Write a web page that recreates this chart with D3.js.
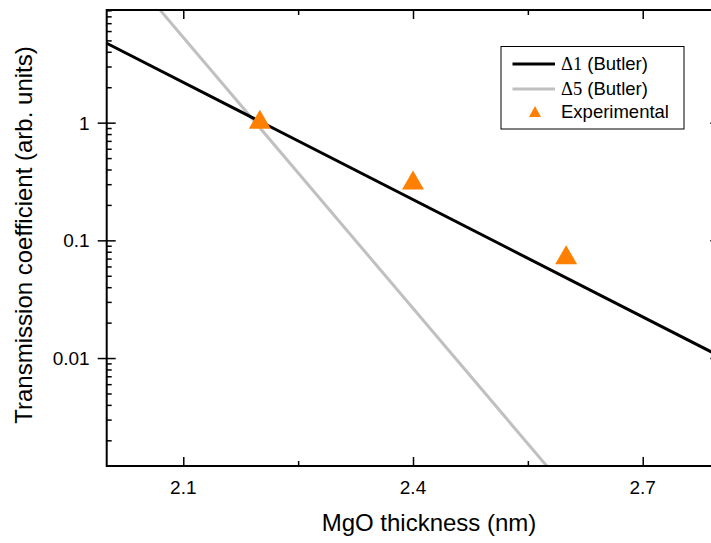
<!DOCTYPE html>
<html>
<head>
<meta charset="utf-8">
<script src="https://cdn.jsdelivr.net/npm/d3@7"></script>
<style>
  html, body { margin: 0; padding: 0; background: #fff; }
  svg { display: block; }
  text { font-family: Arial, "Liberation Sans", sans-serif; fill: #000; }
</style>
</head>
<body>
<svg id="chart" width="711" height="543"></svg>
<script>
// ---- data ----
const thickness = [2.2, 2.4, 2.6];                 // nm (experimental points)
const experimental = [1.07, 0.325, 0.0755];        // arb. units
const butlerThickness = [2.0, 2.8];                // nm (line endpoints)
const delta1 = [4.73, 0.0104];                     // Δ1 (Butler)
const delta5 = [31, 2.26e-5];                      // Δ5 (Butler)
const xMajorTicks = [2.1, 2.4, 2.7];
const xMinorTicks = [2.25, 2.55];
const yMajorTicks = [0.01, 0.1, 1];
const yMinorTicks = [0.002,0.003,0.004,0.005,0.006,0.007,0.008,0.009,
                     0.02,0.03,0.04,0.05,0.06,0.07,0.08,0.09,
                     0.2,0.3,0.4,0.5,0.6,0.7,0.8,0.9,
                     2,3,4,5,6,7,8,9];

// ---- layout ----
const L = 106.7, R = 719.3, T = 10, B = 466;
const svg = d3.select("#chart");
const x = d3.scaleLinear().domain([2.0, 2.8]).range([L, R]);
const y = d3.scaleLog().domain([0.00121, 9.06]).range([B, T]);

svg.append("defs").append("clipPath").attr("id", "clip")
  .append("rect").attr("x", L).attr("y", T).attr("width", R - L).attr("height", B - T);

const plot = svg.append("g").attr("clip-path", "url(#clip)");

// lines
const lineGen = d3.line().x(d => x(d[0])).y(d => y(d[1]));
plot.append("path")
  .datum(butlerThickness.map((t, i) => [t, delta5[i]]))
  .attr("d", lineGen).attr("fill", "none").attr("stroke", "#c0c0c0").attr("stroke-width", 3);
plot.append("path")
  .datum(butlerThickness.map((t, i) => [t, delta1[i]]))
  .attr("d", lineGen).attr("fill", "none").attr("stroke", "#000").attr("stroke-width", 3);

// triangles
function tri(cx, cy, w, h) {
  return `M${cx},${cy - h / 2}L${cx + w / 2},${cy + h / 2}L${cx - w / 2},${cy + h / 2}Z`;
}
plot.selectAll("path.pt").data(thickness.map((t, i) => [t, experimental[i]]))
  .enter().append("path").attr("class", "pt")
  .attr("d", d => tri(x(d[0]), y(d[1]), 22, 19))
  .attr("fill", "#ff8000");

// ---- axes ----
const axisStyle = g => {
  g.select(".domain").remove();
  g.selectAll("line").attr("stroke", "#000").attr("stroke-width", 1.5);
};

// bottom
svg.append("g").attr("transform", `translate(0,${B})`)
  .call(d3.axisTop(x).tickValues(xMajorTicks).tickSize(9).tickFormat(""))
  .call(axisStyle);
svg.append("g").attr("transform", `translate(0,${B})`)
  .call(d3.axisTop(x).tickValues(xMinorTicks).tickSize(5).tickFormat(""))
  .call(axisStyle);
svg.append("g").selectAll("text").data(xMajorTicks).enter().append("text")
  .attr("x", d => x(d)).attr("y", B + 28).attr("text-anchor", "middle")
  .attr("font-size", 19).text(d => d3.format(".1f")(d));

// top
svg.append("g").attr("transform", `translate(0,${T})`)
  .call(d3.axisBottom(x).tickValues(xMajorTicks).tickSize(9).tickFormat(""))
  .call(axisStyle);
svg.append("g").attr("transform", `translate(0,${T})`)
  .call(d3.axisBottom(x).tickValues(xMinorTicks).tickSize(5).tickFormat(""))
  .call(axisStyle);

// left
const leftMajor = svg.append("g").attr("transform", `translate(${L},0)`)
  .call(d3.axisLeft(y).tickValues(yMajorTicks).tickSize(9).tickFormat(""))
  .call(axisStyle);
leftMajor.selectAll("line").attr("x1", 9).attr("x2", -9);
svg.append("g").attr("transform", `translate(${L},0)`)
  .call(d3.axisRight(y).tickValues(yMinorTicks).tickSize(5).tickFormat(""))
  .call(axisStyle);
svg.append("g").selectAll("text").data(yMajorTicks).enter().append("text")
  .attr("x", L - 17).attr("y", d => y(d) + 7).attr("text-anchor", "end")
  .attr("font-size", 19).text(d => String(d));

// right
svg.append("g").attr("transform", `translate(${R},0)`)
  .call(d3.axisLeft(y).tickValues(yMajorTicks).tickSize(9).tickFormat(""))
  .call(axisStyle);
svg.append("g").attr("transform", `translate(${R},0)`)
  .call(d3.axisLeft(y).tickValues(yMinorTicks).tickSize(5).tickFormat(""))
  .call(axisStyle);

// frame
svg.append("rect").attr("x", L).attr("y", T).attr("width", R - L).attr("height", B - T)
  .attr("fill", "none").attr("stroke", "#000").attr("stroke-width", 2);

// titles
svg.append("text").attr("x", 429).attr("y", 531).attr("text-anchor", "middle")
  .attr("font-size", 24).text("MgO thickness (nm)");
svg.append("text").attr("transform", "translate(32,235) rotate(-90)")
  .attr("text-anchor", "middle").attr("font-size", 24)
  .text("Transmission coefficient (arb. units)");

// ---- legend ----
const lg = svg.append("g");
lg.append("rect").attr("x", 501).attr("y", 46.5).attr("width", 183).attr("height", 82.5)
  .attr("fill", "#fff").attr("stroke", "#000").attr("stroke-width", 1);
const legendItems = [
  { sym: "Δ1", rest: " (Butler)", color: "#000", type: "line", cy: 64 },
  { sym: "Δ5", rest: " (Butler)", color: "#c0c0c0", type: "line", cy: 89 },
  { sym: "", rest: "Experimental", color: "#ff8000", type: "tri", cy: 111.5 }
];
legendItems.forEach(it => {
  if (it.type === "line") {
    lg.append("line").attr("x1", 512.5).attr("x2", 555).attr("y1", it.cy).attr("y2", it.cy)
      .attr("stroke", it.color).attr("stroke-width", 3);
  } else {
    lg.append("path").attr("d", tri(535, it.cy, 12, 11)).attr("fill", it.color);
  }
  const t = lg.append("text").attr("x", 561).attr("y", it.cy + 6).attr("font-size", 18.5);
  if (it.sym) t.append("tspan").attr("font-family", "'Times New Roman', 'Liberation Serif', serif").text(it.sym);
  t.append("tspan").text(it.rest);
});
</script>
</body>
</html>
